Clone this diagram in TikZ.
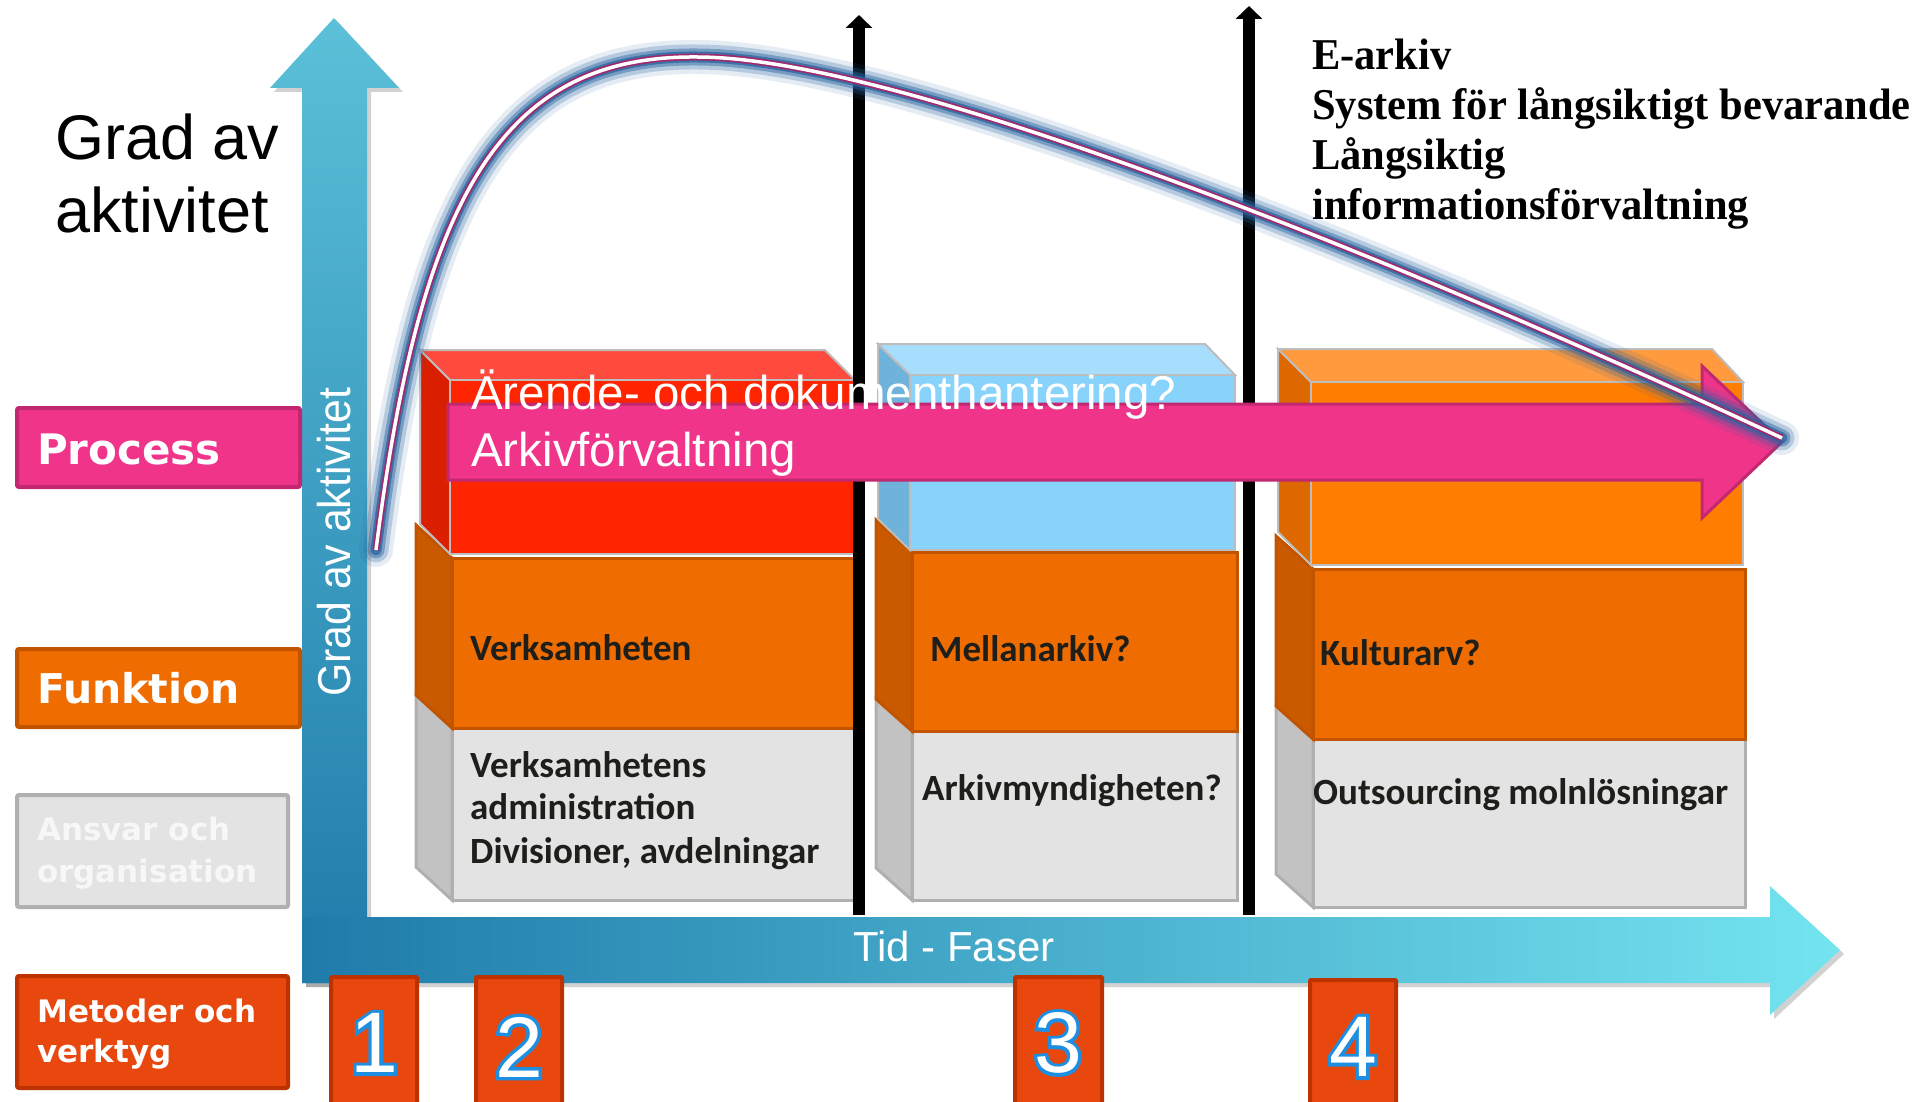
\documentclass[tikz,border=0pt]{standalone}
\usepackage{fontspec}
\setmainfont{Liberation Sans}
\newfontfamily\dvs{DejaVu Sans}
\newfontfamily\calib{Carlito}
\newfontfamily\tms{Liberation Serif}
\newfontfamily\numbold[FakeBold=8]{Liberation Sans}
\usetikzlibrary{arrows.meta}
\definecolor{axtop}{HTML}{5BC0D8}
\definecolor{axbot}{HTML}{1F7BAA}
\definecolor{axright}{HTML}{74E4F0}
\definecolor{procF}{HTML}{EF3489}
\definecolor{procD}{HTML}{C2286F}
\definecolor{funkF}{HTML}{EF6C00}
\definecolor{funkD}{HTML}{C25400}
\definecolor{funkS}{HTML}{C95A00}
\definecolor{grayF}{HTML}{E3E3E3}
\definecolor{grayD}{HTML}{B0B0B0}
\definecolor{grayS}{HTML}{C2C2C2}
\definecolor{metF}{HTML}{E8470E}
\definecolor{metD}{HTML}{BD3300}
\definecolor{redF}{HTML}{FF2500}
\definecolor{redT}{HTML}{FF4B3E}
\definecolor{redS}{HTML}{DA1F00}
\definecolor{bluF}{HTML}{87D3FC}
\definecolor{bluT}{HTML}{A7DEFD}
\definecolor{bluS}{HTML}{6FB2DA}
\definecolor{oraF}{HTML}{FF7D00}
\definecolor{oraT}{HTML}{FF9A3E}
\definecolor{oraS}{HTML}{DD6800}
\definecolor{edgeL}{HTML}{BDBDBD}
\definecolor{glowc}{HTML}{2A64A0}
\definecolor{curveE}{HTML}{9C2A6C}
\definecolor{numblue}{HTML}{1E8FE0}
\definecolor{txtdark}{HTML}{1E1E1A}
\definecolor{ansT}{HTML}{F7F7F7}
\tikzset{
  labbox/.style={line width=4pt, rounded corners=2pt, anchor=north west, inner sep=0},
  labtxt/.style={anchor=base west, inner sep=0, text=white},
  blktxt/.style={anchor=base west, inner sep=0, text=txtdark, font=\calib\bfseries\fontsize{37}{44}\selectfont},
  litedge/.style={draw=edgeL, line width=2pt},
  funkedge/.style={draw=funkD, line width=3pt},
  grayedge/.style={draw=grayD, line width=3pt},
  numbox/.style={fill=metF, draw=metD, line width=4pt, rounded corners=1pt},
  numback/.style={inner sep=0, text=numblue, font=\numbold\fontsize{86}{86}\selectfont},
  numtxt/.style={inner sep=0, text=white, font=\fontsize{86}{86}\selectfont},
  blackline/.style={line width=12pt, black, -{Triangle[width=26pt,length=13pt]}},
  arrtxt/.style={anchor=base west, inner sep=0, text=white, font=\fontsize{47.5}{57}\selectfont},
  toptxt/.style={anchor=base west, inner sep=0, text=black, xscale=0.966, font=\tms\bfseries\fontsize{44}{51}\selectfont},
}
\newcommand\curvepath{(376,550) .. controls (420,200) and (500,55) .. (697,57) .. controls (900,57) and (1400,260) .. (1782,438)}
\begin{document}
\begin{tikzpicture}[x=1pt,y=-1pt]
\useasboundingbox (0,0) rectangle (1917,1102);
\clip (0,0) rectangle (1917,1102);

% ---- axes ----
\fill[black,opacity=0.18] (306,987) -- (306,92) -- (274,92) -- (338,22) -- (403,92) -- (371,92) -- (371,987) -- cycle;
\fill[black,opacity=0.18] (306,921) -- (1774,921) -- (1774,890) -- (1844,954) -- (1774,1019) -- (1774,987) -- (306,987) -- cycle;
\shade[top color=axtop, bottom color=axbot] (302,983) -- (302,88) -- (270,88) -- (334,18) -- (399,88) -- (367,88) -- (367,983) -- cycle;
\shade[left color=axbot, right color=axright] (302,917) -- (1770,917) -- (1770,886) -- (1840,950) -- (1770,1015) -- (1770,983) -- (302,983) -- cycle;

% ---- left labels ----
\node[labbox, fill=procF, draw=procD, minimum width=283, minimum height=79] (procbox) at (15,406) {};
\node[labtxt, font=\dvs\bfseries\fontsize{42}{50}\selectfont] (proctxt) at (37,464) {Process};
\node[labbox, fill=funkF, draw=funkD, minimum width=283, minimum height=78] (funkbox) at (15,647) {};
\node[labtxt, font=\dvs\bfseries\fontsize{41}{50}\selectfont] (funktxt) at (37,703) {Funktion};
\node[labbox, fill=grayF, draw=grayD, minimum width=271, minimum height=112] (ansbox) at (15,793) {};
\node[labtxt, text=ansT, font=\dvs\bfseries\fontsize{31}{42}\selectfont] (anstxtA) at (37,840) {Ansvar och};
\node[labtxt, text=ansT, font=\dvs\bfseries\fontsize{31}{42}\selectfont] (anstxtB) at (37,882) {organisation};
\node[labbox, fill=metF, draw=metD, minimum width=271, minimum height=112] (metbox) at (15,974) {};
\node[labtxt, font=\dvs\bfseries\fontsize{31}{42}\selectfont] (mettxtA) at (37,1022) {Metoder och};
\node[labtxt, font=\dvs\bfseries\fontsize{31}{42}\selectfont] (mettxtB) at (37,1062) {verktyg};

% ---- big title ----
\node[anchor=base west, inner sep=0, font=\fontsize{63}{73}\selectfont] (titA) at (55,160) {Grad av};
\node[anchor=base west, inner sep=0, font=\fontsize{63}{73}\selectfont] (titB) at (55,233) {aktivitet};

% ---- column 1 ----
\filldraw[fill=grayS, grayedge] (416,695) -- (452,728) -- (452,900) -- (416,867) -- cycle;
\filldraw[fill=grayF, grayedge] (452,728) rectangle (857,900);
\filldraw[fill=funkS, funkedge] (416,525) -- (452,558) -- (452,728) -- (416,695) -- cycle;
\filldraw[fill=funkF, funkedge] (452,558) rectangle (858,728);
\filldraw[fill=redS, litedge] (420,350) -- (450,380) -- (450,554) -- (420,524) -- cycle;
\filldraw[fill=redT, litedge] (420,350) -- (825,350) -- (855,380) -- (450,380) -- cycle;
\filldraw[fill=redF, litedge] (450,380) rectangle (855,554);

% ---- column 2 ----
\filldraw[fill=grayS, grayedge] (876,699) -- (912,731) -- (912,900) -- (876,868) -- cycle;
\filldraw[fill=grayF, grayedge] (912,731) rectangle (1237,900);
\filldraw[fill=funkS, funkedge] (876,520) -- (912,552) -- (912,731) -- (876,699) -- cycle;
\filldraw[fill=funkF, funkedge] (912,552) rectangle (1237,731);
\filldraw[fill=bluS, litedge] (878,344) -- (910,375) -- (910,550) -- (878,519) -- cycle;
\filldraw[fill=bluT, litedge] (878,344) -- (1205,344) -- (1235,375) -- (910,375) -- cycle;
\filldraw[fill=bluF, litedge] (910,375) rectangle (1235,550);

% ---- column 3 ----
\filldraw[fill=grayS, grayedge] (1276,706) -- (1313,739) -- (1313,907) -- (1276,874) -- cycle;
\filldraw[fill=grayF, grayedge] (1313,739) rectangle (1745,907);
\filldraw[fill=funkS, funkedge] (1276,536) -- (1313,569) -- (1313,739) -- (1276,706) -- cycle;
\filldraw[fill=funkF, funkedge] (1313,569) rectangle (1745,739);
\filldraw[fill=oraS, litedge] (1278,349) -- (1311,382) -- (1311,565) -- (1278,532) -- cycle;
\filldraw[fill=oraT, litedge] (1278,349) -- (1712,349) -- (1743,382) -- (1311,382) -- cycle;
\filldraw[fill=oraF, litedge] (1311,382) rectangle (1743,565);

% ---- black phase lines ----
\coordinate (l1b) at (859,915);
\coordinate (l1t) at (859,15);
\coordinate (l2b) at (1249,915);
\coordinate (l2t) at (1249,6);
\draw[blackline] (l1b) -- (l1t);
\draw[blackline] (l2b) -- (l2t);

% ---- process arrow ----
\filldraw[fill=procF, draw=procD, line width=3pt, line join=miter] (448,404) -- (1702,404) -- (1702,366) -- (1782,442) -- (1702,518) -- (1702,480) -- (448,480) -- cycle;
\node[arrtxt] (arrA) at (471,409) {Ärende- och dokumenthantering?};
\node[arrtxt] (arrB) at (471,466) {Arkivförvaltning};

% ---- block texts ----
\node[blktxt] (verk) at (470,660) {Verksamheten};
\node[blktxt] (adm1) at (470,777) {Verksamhetens};
\node[blktxt] (adm2) at (470,819) {administration};
\node[blktxt] (adm3) at (470,863) {Divisioner, avdelningar};
\node[blktxt] (mell) at (930,661) {Mellanarkiv?};
\node[blktxt] (arkm) at (922,800) {Arkivmyndigheten?};
\node[blktxt] (kult) at (1320,665) {Kulturarv?};
\node[blktxt] (outs) at (1313,804) {Outsourcing molnlösningar};

% ---- axis texts ----
\node[anchor=base west, inner sep=0, text=white, rotate=90, xscale=0.93, font=\fontsize{46}{50}\selectfont] (yax) at (350,697) {Grad av aktivitet};
\node[anchor=base west, inner sep=0, text=white, font=\fontsize{42}{50}\selectfont] (xax) at (853,961) {Tid - Faser};

% ---- top right text ----
\node[toptxt] (tr1) at (1312,70) {E-arkiv};
\node[toptxt] (tr2) at (1312,120) {System för långsiktigt bevarande};
\node[toptxt] (tr3) at (1312,170) {Långsiktig};
\node[toptxt] (tr4) at (1312,220) {informationsförvaltning};

% ---- number boxes ----
\filldraw[numbox] (331,977) rectangle (417,1115);
\filldraw[numbox] (476,977) rectangle (562,1115);
\filldraw[numbox] (1015,977) rectangle (1102,1115);
\filldraw[numbox] (1310,980) rectangle (1396,1115);
\node[numback] (n1b) at (374,1043) {1};
\node[numtxt] (n1) at (n1b) {1};
\node[numback] (n2b) at (519,1047) {2};
\node[numtxt] (n2) at (n2b) {2};
\node[numback] (n3b) at (1058,1043) {3};
\node[numtxt] (n3) at (n3b) {3};
\node[numback] (n4b) at (1353,1047) {4};
\node[numtxt] (n4) at (n4b) {4};

% ---- glowing curve ----
\draw[glowc, line width=34pt, opacity=0.12, line cap=round] \curvepath;
\draw[glowc, line width=25pt, opacity=0.25, line cap=round] \curvepath;
\draw[glowc, line width=17pt, opacity=0.45, line cap=round] \curvepath;
\draw[glowc, line width=11pt, opacity=0.75, line cap=round] \curvepath;
\draw[curveE, line width=7pt] \curvepath;
\draw[white, line width=3.5pt] \curvepath;
\end{tikzpicture}
\end{document}
